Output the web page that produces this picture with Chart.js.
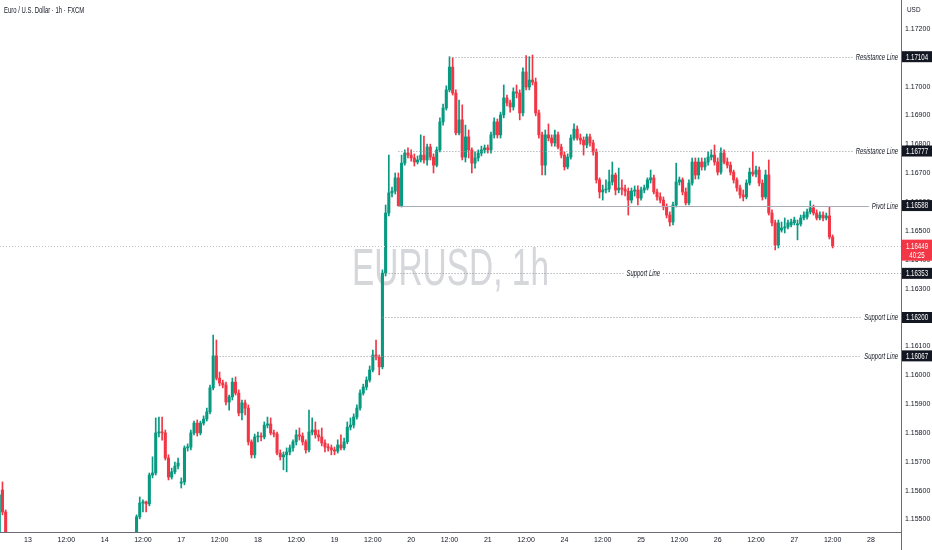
<!DOCTYPE html>
<html>
<head>
<meta charset="utf-8">
<title>EURUSD, 1h</title>
<script src="https://cdn.jsdelivr.net/npm/chart.js"></script>
<style>
  html, body { margin: 0; padding: 0; background: #ffffff; }
  #wrap { width: 932px; height: 550px; position: relative; }
</style>
</head>
<body>
<div id="wrap"><canvas id="chart"></canvas></div>
<script>
// Hourly candles. Hour 0 = day 13 00:00, weekend hours are skipped like on the source chart.
// The first three candles sit at the left edge, then price drops out of view until hour 34.
const edgeHours = [-9, -8, -7];
const firstHour = 34;

const opens = [
  1.15446, 1.15602, 1.15526,
  1.15412, 1.15509, 1.15557, 1.15561, 1.15554, 1.15654, 1.15661, 1.15800, 1.15803, 1.15800,
  1.15713, 1.15647, 1.15665, 1.15685, 1.15626, 1.15630, 1.15748, 1.15751, 1.15800, 1.15834,
  1.15800, 1.15834, 1.15848, 1.15873, 1.15956, 1.16067, 1.15990, 1.15973, 1.15966, 1.15907,
  1.15925, 1.15976, 1.15938, 1.15869, 1.15904, 1.15886, 1.15769, 1.15724, 1.15786, 1.15789,
  1.15786, 1.15827, 1.15831, 1.15800, 1.15796, 1.15730, 1.15717, 1.15724, 1.15734, 1.15748,
  1.15769, 1.15793, 1.15789, 1.15769, 1.15741, 1.15803, 1.15810, 1.15793, 1.15786, 1.15765,
  1.15751, 1.15748, 1.15741, 1.15737, 1.15758, 1.15748, 1.15769, 1.15820, 1.15827, 1.15855,
  1.15886, 1.15938, 1.15959, 1.15983, 1.16018, 1.16070, 1.16063, 1.16029, 1.16354, 1.16562,
  1.16632, 1.16638, 1.16684, 1.16588, 1.16735, 1.16770, 1.16763, 1.16753, 1.16739, 1.16746,
  1.16763, 1.16746, 1.16791, 1.16756, 1.16728, 1.16781, 1.16878, 1.16926, 1.16989, 1.17068,
  1.16978, 1.16840, 1.16885, 1.16756, 1.16826, 1.16781, 1.16735, 1.16753, 1.16770, 1.16781,
  1.16788, 1.16781, 1.16833, 1.16878, 1.16833, 1.16902, 1.16961, 1.16944, 1.16930, 1.16982,
  1.16978, 1.16909, 1.17051, 1.16999, 1.17023, 1.17016, 1.16909, 1.16833, 1.16728, 1.16833,
  1.16822, 1.16805, 1.16833, 1.16791, 1.16763, 1.16722, 1.16756, 1.16822, 1.16853, 1.16822,
  1.16815, 1.16798, 1.16826, 1.16805, 1.16774, 1.16677, 1.16635, 1.16642, 1.16645, 1.16670,
  1.16694, 1.16642, 1.16649, 1.16645, 1.16638, 1.16607, 1.16638, 1.16642, 1.16614, 1.16642,
  1.16649, 1.16677, 1.16684, 1.16635, 1.16618, 1.16607, 1.16583, 1.16555, 1.16531, 1.16590,
  1.16670, 1.16677, 1.16635, 1.16597, 1.16666, 1.16739, 1.16694, 1.16739, 1.16722, 1.16739,
  1.16756, 1.16763, 1.16739, 1.16704, 1.16770, 1.16739, 1.16728, 1.16704, 1.16677, 1.16649,
  1.16625, 1.16618, 1.16666, 1.16704, 1.16697, 1.16711, 1.16666, 1.16618, 1.16694, 1.16562,
  1.16528, 1.16451, 1.16503, 1.16510, 1.16514, 1.16521, 1.16528, 1.16521, 1.16524, 1.16545,
  1.16548, 1.16566, 1.16580, 1.16562, 1.16545, 1.16555, 1.16545, 1.16552, 1.16479
];

const highs = [
  1.15602, 1.15630, 1.15533,
  1.15516, 1.15578, 1.15568, 1.15564, 1.15661, 1.15717, 1.15852, 1.15855, 1.15855, 1.15810,
  1.15724, 1.15678, 1.15699, 1.15713, 1.15644, 1.15755, 1.15762, 1.15810, 1.15841, 1.15845,
  1.15841, 1.15859, 1.15886, 1.15966, 1.16139, 1.16122, 1.16011, 1.15983, 1.15976, 1.15931,
  1.15990, 1.15994, 1.15949, 1.15914, 1.15914, 1.15897, 1.15776, 1.15796, 1.15803, 1.15800,
  1.15838, 1.15855, 1.15852, 1.15810, 1.15803, 1.15741, 1.15734, 1.15748, 1.15758, 1.15776,
  1.15810, 1.15817, 1.15800, 1.15776, 1.15879, 1.15852, 1.15838, 1.15810, 1.15817, 1.15776,
  1.15762, 1.15758, 1.15751, 1.15776, 1.15793, 1.15782, 1.15838, 1.15852, 1.15866, 1.15897,
  1.15949, 1.15969, 1.15994, 1.16032, 1.16087, 1.16122, 1.16070, 1.16365, 1.16590, 1.16763,
  1.16652, 1.16701, 1.16701, 1.16763, 1.16781, 1.16788, 1.16781, 1.16767, 1.16760, 1.16833,
  1.16829, 1.16801, 1.16801, 1.16767, 1.16791, 1.16892, 1.16940, 1.17003, 1.17104, 1.17100,
  1.16989, 1.16954, 1.16937, 1.16867, 1.16850, 1.16788, 1.16774, 1.16781, 1.16794, 1.16798,
  1.16798, 1.16843, 1.16892, 1.16888, 1.16912, 1.17006, 1.16971, 1.16954, 1.16996, 1.17006,
  1.16989, 1.17065, 1.17108, 1.17104, 1.17110, 1.17030, 1.16919, 1.16843, 1.16850, 1.16871,
  1.16833, 1.16850, 1.16843, 1.16801, 1.16774, 1.16767, 1.16833, 1.16871, 1.16864, 1.16836,
  1.16826, 1.16836, 1.16836, 1.16815, 1.16784, 1.16684, 1.16659, 1.16677, 1.16711, 1.16739,
  1.16701, 1.16718, 1.16677, 1.16659, 1.16649, 1.16649, 1.16656, 1.16656, 1.16652, 1.16659,
  1.16684, 1.16711, 1.16694, 1.16645, 1.16632, 1.16618, 1.16594, 1.16566, 1.16600, 1.16735,
  1.16687, 1.16684, 1.16649, 1.16677, 1.16753, 1.16753, 1.16753, 1.16753, 1.16753, 1.16774,
  1.16781, 1.16798, 1.16753, 1.16788, 1.16781, 1.16753, 1.16739, 1.16711, 1.16684, 1.16659,
  1.16642, 1.16677, 1.16718, 1.16774, 1.16725, 1.16722, 1.16677, 1.16711, 1.16746, 1.16573,
  1.16538, 1.16538, 1.16531, 1.16545, 1.16538, 1.16541, 1.16548, 1.16538, 1.16555, 1.16566,
  1.16576, 1.16604, 1.16590, 1.16573, 1.16566, 1.16566, 1.16562, 1.16583, 1.16486
];

const lows = [
  1.15429, 1.15516, 1.15429,
  1.15401, 1.15502, 1.15526, 1.15526, 1.15547, 1.15644, 1.15654, 1.15786, 1.15775, 1.15706,
  1.15637, 1.15640, 1.15658, 1.15675, 1.15609, 1.15620, 1.15737, 1.15741, 1.15793, 1.15789,
  1.15793, 1.15827, 1.15841, 1.15866, 1.15949, 1.15983, 1.15963, 1.15956, 1.15897, 1.15879,
  1.15914, 1.15931, 1.15859, 1.15845, 1.15862, 1.15758, 1.15713, 1.15713, 1.15769, 1.15772,
  1.15779, 1.15817, 1.15793, 1.15786, 1.15724, 1.15706, 1.15672, 1.15665, 1.15724, 1.15737,
  1.15758, 1.15775, 1.15758, 1.15730, 1.15734, 1.15793, 1.15782, 1.15772, 1.15755, 1.15734,
  1.15737, 1.15724, 1.15724, 1.15730, 1.15741, 1.15741, 1.15762, 1.15810, 1.15817, 1.15848,
  1.15879, 1.15931, 1.15949, 1.15976, 1.16011, 1.16053, 1.16001, 1.16022, 1.16344, 1.16552,
  1.16618, 1.16628, 1.16586, 1.16583, 1.16728, 1.16753, 1.16742, 1.16725, 1.16732, 1.16739,
  1.16735, 1.16728, 1.16746, 1.16701, 1.16722, 1.16774, 1.16867, 1.16919, 1.16982, 1.16971,
  1.16833, 1.16833, 1.16746, 1.16739, 1.16753, 1.16701, 1.16718, 1.16742, 1.16760, 1.16770,
  1.16770, 1.16770, 1.16822, 1.16822, 1.16822, 1.16892, 1.16933, 1.16912, 1.16919, 1.16961,
  1.16885, 1.16899, 1.16989, 1.16989, 1.17006, 1.16899, 1.16822, 1.16694, 1.16694, 1.16812,
  1.16794, 1.16794, 1.16784, 1.16753, 1.16711, 1.16715, 1.16749, 1.16815, 1.16815, 1.16801,
  1.16763, 1.16788, 1.16794, 1.16763, 1.16666, 1.16614, 1.16607, 1.16632, 1.16635, 1.16659,
  1.16625, 1.16632, 1.16625, 1.16621, 1.16555, 1.16597, 1.16621, 1.16590, 1.16607, 1.16632,
  1.16642, 1.16666, 1.16628, 1.16607, 1.16597, 1.16573, 1.16545, 1.16517, 1.16521, 1.16583,
  1.16659, 1.16625, 1.16590, 1.16590, 1.16659, 1.16680, 1.16680, 1.16711, 1.16711, 1.16728,
  1.16746, 1.16728, 1.16694, 1.16697, 1.16732, 1.16718, 1.16694, 1.16666, 1.16638, 1.16614,
  1.16604, 1.16611, 1.16659, 1.16690, 1.16687, 1.16656, 1.16607, 1.16611, 1.16555, 1.16517,
  1.16434, 1.16441, 1.16496, 1.16493, 1.16507, 1.16514, 1.16521, 1.16469, 1.16517, 1.16538,
  1.16541, 1.16559, 1.16555, 1.16538, 1.16538, 1.16535, 1.16538, 1.16472, 1.16441
];

const closes = [
  1.15585, 1.15526, 1.15446,
  1.15509, 1.15557, 1.15561, 1.15554, 1.15654, 1.15661, 1.15800, 1.15803, 1.15800, 1.15713,
  1.15647, 1.15665, 1.15685, 1.15696, 1.15630, 1.15748, 1.15751, 1.15800, 1.15834, 1.15800,
  1.15834, 1.15848, 1.15873, 1.15956, 1.16067, 1.15990, 1.15973, 1.15966, 1.15907, 1.15925,
  1.15976, 1.15938, 1.15869, 1.15904, 1.15886, 1.15769, 1.15724, 1.15786, 1.15789, 1.15786,
  1.15827, 1.15831, 1.15800, 1.15796, 1.15730, 1.15717, 1.15724, 1.15734, 1.15748, 1.15769,
  1.15793, 1.15789, 1.15769, 1.15741, 1.15803, 1.15810, 1.15793, 1.15786, 1.15765, 1.15751,
  1.15748, 1.15741, 1.15737, 1.15758, 1.15748, 1.15769, 1.15820, 1.15827, 1.15855, 1.15886,
  1.15938, 1.15959, 1.15983, 1.16018, 1.16070, 1.16063, 1.16029, 1.16354, 1.16562, 1.16632,
  1.16638, 1.16684, 1.16588, 1.16735, 1.16770, 1.16763, 1.16753, 1.16739, 1.16746, 1.16763,
  1.16746, 1.16791, 1.16756, 1.16728, 1.16781, 1.16878, 1.16926, 1.16989, 1.17068, 1.16978,
  1.16840, 1.16885, 1.16756, 1.16826, 1.16781, 1.16735, 1.16753, 1.16770, 1.16781, 1.16788,
  1.16781, 1.16833, 1.16878, 1.16833, 1.16902, 1.16961, 1.16944, 1.16930, 1.16982, 1.16978,
  1.16909, 1.17051, 1.16999, 1.17023, 1.17016, 1.16909, 1.16833, 1.16728, 1.16833, 1.16822,
  1.16805, 1.16833, 1.16791, 1.16763, 1.16722, 1.16756, 1.16822, 1.16853, 1.16822, 1.16815,
  1.16798, 1.16826, 1.16805, 1.16774, 1.16677, 1.16635, 1.16642, 1.16645, 1.16670, 1.16694,
  1.16642, 1.16649, 1.16645, 1.16638, 1.16607, 1.16638, 1.16642, 1.16614, 1.16642, 1.16649,
  1.16677, 1.16684, 1.16635, 1.16618, 1.16607, 1.16583, 1.16555, 1.16531, 1.16590, 1.16670,
  1.16677, 1.16635, 1.16597, 1.16666, 1.16739, 1.16694, 1.16739, 1.16722, 1.16739, 1.16756,
  1.16763, 1.16739, 1.16704, 1.16770, 1.16739, 1.16728, 1.16704, 1.16677, 1.16649, 1.16625,
  1.16618, 1.16666, 1.16704, 1.16697, 1.16711, 1.16666, 1.16618, 1.16694, 1.16562, 1.16528,
  1.16451, 1.16528, 1.16510, 1.16514, 1.16528, 1.16531, 1.16538, 1.16524, 1.16545, 1.16555,
  1.16566, 1.16580, 1.16562, 1.16545, 1.16555, 1.16545, 1.16552, 1.16479, 1.16449
];

// time axis
const xTickHours = [0, 12, 24, 36, 48, 60, 72, 84, 96, 108, 120, 132, 144, 156, 168, 180, 192, 204, 216, 228, 240, 252, 264];
const xTickLabels = ['13', '12:00', '14', '12:00', '17', '12:00', '18', '12:00', '19', '12:00', '20', '12:00',
  '21', '12:00', '24', '12:00', '25', '12:00', '26', '12:00', '27', '12:00', '28'];

// price axis
const yTicks = [1.155, 1.156, 1.157, 1.158, 1.159, 1.160, 1.161, 1.162, 1.163,
  1.164, 1.165, 1.166, 1.167, 1.168, 1.169, 1.170, 1.171, 1.172];

// drawn horizontal levels
const levelValues = [1.17104, 1.16777, 1.16588, 1.16353, 1.16200, 1.16067];
const levelNames = ['Resistance Line', 'Resistance Line', 'Pivot Line', 'Support Line', 'Support Line', 'Support Line'];
const levelStartHours = [132, 116, 116, 112, 111, 60];

const symbolTitle = 'Euro / U.S. Dollar \u00b7 1h \u00b7 FXCM';
const watermarkText = 'EURUSD, 1h';
const currencyLabel = 'USD';
const countdownText = '40:25';

// ---- look ----
const UP = '#089981';
const DOWN = '#f23645';
const TEXT = '#131722';
const FONT = "'Liberation Sans', Arial, sans-serif";
const NARROW = 0.7; // horizontal squeeze for the small overlay texts
const levelLook = [
  { dash: [1, 2], align: 'right' },
  { dash: [1, 2], align: 'right' },
  { dash: [], align: 'right' },
  { dash: [1, 2], align: 'center' },
  { dash: [1, 2], align: 'right' },
  { dash: [1, 2], align: 'right' }
];

const candleHours = opens.map((_, i) =>
  i < edgeHours.length ? edgeHours[i] : firstHour + i - edgeHours.length);
const candleColors = opens.map((o, i) => closes[i] >= o ? UP : DOWN);
const lastPrice = closes[closes.length - 1];

// draws text squeezed horizontally
function narrowText(ctx, text, x, y, align, sx) {
  ctx.save();
  ctx.translate(x, y);
  ctx.scale(sx, 1);
  ctx.textAlign = align;
  ctx.fillText(text, 0, 0);
  ctx.restore();
}

const overlay = {
  id: 'overlay',
  beforeDatasetsDraw(chart) {
    const ctx = chart.ctx, a = chart.chartArea;
    ctx.save();
    ctx.font = '52px ' + FONT;
    const w = ctx.measureText(watermarkText).width;
    ctx.translate((a.left + a.right) / 2, 285);
    ctx.scale(197 / w, 1);
    ctx.fillStyle = '#d6d7db';
    ctx.textAlign = 'center';
    ctx.textBaseline = 'alphabetic';
    ctx.fillText(watermarkText, 0, 0);
    ctx.restore();
  },
  afterDatasetsDraw(chart) {
    const ctx = chart.ctx, a = chart.chartArea;
    const xs = chart.scales.x, ys = chart.scales.y;
    ctx.save();
    ctx.lineWidth = 1;
    // last price line
    let y = Math.round(ys.getPixelForValue(lastPrice)) + 0.5;
    ctx.strokeStyle = '#c3c5cc';
    ctx.setLineDash([1, 2]);
    ctx.beginPath(); ctx.moveTo(a.left, y); ctx.lineTo(a.right, y); ctx.stroke();

    ctx.font = 'italic 8.5px ' + FONT;
    ctx.textBaseline = 'middle';
    levelValues.forEach((v, i) => {
      const look = levelLook[i];
      y = Math.round(ys.getPixelForValue(v)) + 0.5;
      const x0 = xs.getPixelForValue(levelStartHours[i]);
      const tw = ctx.measureText(levelNames[i]).width * NARROW;
      ctx.strokeStyle = look.dash.length ? '#9598a1' : '#a9acb4';
      ctx.setLineDash(look.dash);
      ctx.beginPath();
      ctx.fillStyle = TEXT;
      if (look.align === 'center') {
        const cx = (x0 + a.right) / 2;
        ctx.moveTo(x0, y); ctx.lineTo(cx - tw / 2 - 3, y);
        ctx.moveTo(cx + tw / 2 + 3, y); ctx.lineTo(a.right, y);
        ctx.stroke();
        narrowText(ctx, levelNames[i], cx, y, 'center', NARROW);
      } else {
        const tx = a.right - 3;
        ctx.moveTo(x0, y); ctx.lineTo(tx - tw - 3, y);
        ctx.stroke();
        narrowText(ctx, levelNames[i], tx, y, 'right', NARROW);
      }
    });
    ctx.restore();
  },
  afterDraw(chart) {
    const ctx = chart.ctx, a = chart.chartArea;
    const ys = chart.scales.y;
    ctx.save();
    ctx.strokeStyle = '#6a6d78';
    ctx.lineWidth = 1;
    ctx.beginPath();
    ctx.moveTo(a.right + 0.5, 0); ctx.lineTo(a.right + 0.5, chart.height);
    ctx.moveTo(0, a.bottom + 0.5); ctx.lineTo(a.right, a.bottom + 0.5);
    ctx.stroke();

    ctx.fillStyle = TEXT;
    ctx.textBaseline = 'middle';
    ctx.font = '9px ' + FONT;
    narrowText(ctx, symbolTitle, 4, 11, 'left', 0.66);
    ctx.font = '8px ' + FONT;
    narrowText(ctx, currencyLabel, a.right + 6, 10, 'left', 0.8);

    // price badges
    const bx = a.right + 1, bw = chart.width - a.right - 1;
    ctx.font = '8.5px ' + FONT;
    levelValues.forEach(v => {
      const y = ys.getPixelForValue(v);
      ctx.fillStyle = TEXT;
      ctx.fillRect(bx, y - 5.5, bw, 11);
      ctx.fillStyle = '#ffffff';
      narrowText(ctx, v.toFixed(5), bx + bw / 2, y + 0.5, 'center', 0.72);
    });
    const yl = ys.getPixelForValue(lastPrice);
    ctx.fillStyle = DOWN;
    ctx.fillRect(bx, yl - 6, bw, 21);
    ctx.fillStyle = '#ffffff';
    narrowText(ctx, lastPrice.toFixed(5), bx + bw / 2, yl + 0.5, 'center', 0.72);
    narrowText(ctx, countdownText, bx + bw / 2, yl + 9.5, 'center', 0.72);
    ctx.restore();
  }
};

new Chart(document.getElementById('chart'), {
  type: 'bar',
  data: {
    datasets: [
      {
        label: 'wick',
        data: candleHours.map((h, i) => ({ x: h, y: [lows[i], highs[i]] })),
        backgroundColor: candleColors,
        barThickness: 1,
        grouped: false,
        clip: 0,
        order: 2
      },
      {
        label: 'body',
        data: candleHours.map((h, i) => ({ x: h, y: [opens[i], closes[i]] })),
        backgroundColor: candleColors,
        barThickness: 2.4,
        minBarLength: 1,
        grouped: false,
        clip: 0,
        order: 1
      }
    ]
  },
  options: {
    responsive: true,
    maintainAspectRatio: false,
    animation: false,
    layout: { padding: 0 },
    plugins: { legend: { display: false }, tooltip: { enabled: false } },
    scales: {
      x: {
        type: 'linear',
        min: -8.77,
        max: 273.41,
        offset: false,
        grid: { display: false, drawTicks: false, tickLength: 0 },
        border: { display: false },
        afterBuildTicks: s => { s.ticks = xTickHours.map(v => ({ value: v })); },
        ticks: {
          autoSkip: false, maxRotation: 0, padding: 4, color: TEXT,
          font: { family: FONT, size: 7 },
          callback: (v, i) => xTickLabels[i]
        },
        afterFit: s => { s.height = 18; s.paddingLeft = 0; s.paddingRight = 0; }
      },
      y: {
        type: 'linear',
        position: 'right',
        min: 1.154565,
        max: 1.173005,
        grid: { display: false, drawTicks: false, tickLength: 0 },
        border: { display: false },
        afterBuildTicks: s => { s.ticks = yTicks.map(v => ({ value: v })); },
        ticks: {
          padding: 4, color: TEXT,
          font: { family: FONT, size: 7 },
          callback: v => v.toFixed(5)
        },
        afterFit: s => { s.width = 31; s.paddingTop = 0; s.paddingBottom = 0; }
      }
    }
  },
  plugins: [overlay]
});
</script>
</body>
</html>
